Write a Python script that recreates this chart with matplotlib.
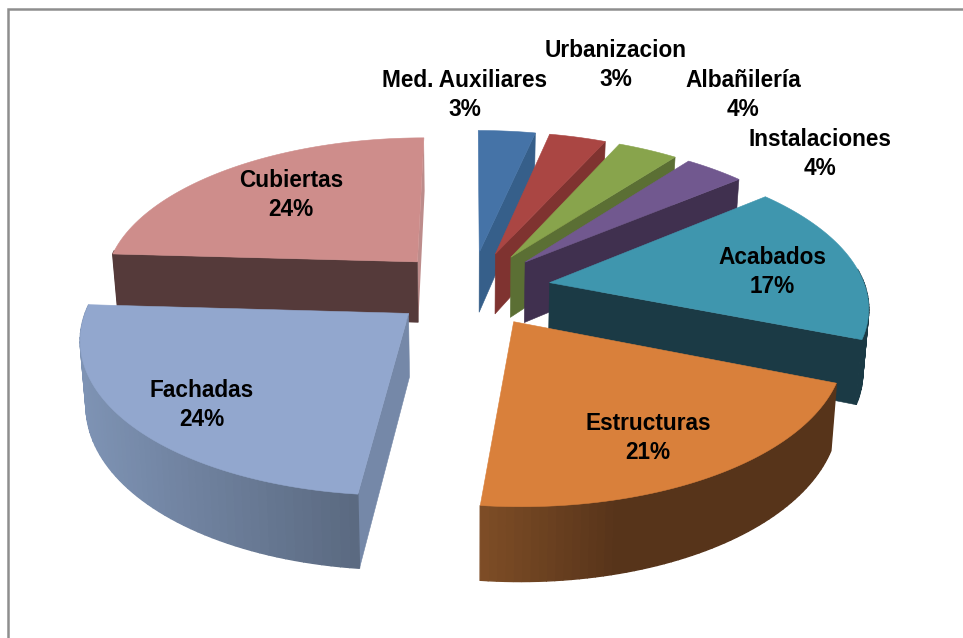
import numpy as np
import matplotlib
matplotlib.use("Agg")
import matplotlib.pyplot as plt
from matplotlib.patches import Polygon
from matplotlib.colors import to_rgb

# ---- data ----
categories = ["Med. Auxiliares", "Urbanizacion", "Albañilería", "Instalaciones",
              "Acabados", "Estructuras", "Fachadas", "Cubiertas"]
values = [3.4, 3.4, 3.6, 3.6, 17.0, 20.7, 24.2, 24.1]
pct_labels = ["3%", "3%", "4%", "4%", "17%", "21%", "24%", "24%"]

# ---- styles ----
top_colors = ["#4573a7", "#aa4643", "#88a44c", "#71588f", "#3f96ae", "#d9803b", "#92a7ce", "#ce8d8b"]
wall_colors = ["#365f8a", "#7f3330", "#5b6f34", "#40304f", "#1b3a45", "#5a3518", "#7588a8", "#553a3a"]
# which radial wall of each slice faces the viewer
wall_side = ["end", "end", "end", "end", "end", None, "start", "start"]
side_left = ["#365f8a", "#7f3330", "#5b6f34", "#40304f", "#1b3a45", "#7e4d26", "#7e93b4", "#553a3a"]
side_right = ["#365f8a", "#7f3330", "#5b6f34", "#40304f", "#1b3a45", "#57341a", "#5a6980", "#553a3a"]
cubiertas_sliver = "#bd8c8b"
draw_order = [7, 0, 1, 2, 3, 4, 6, 5]
label_xy = [(465, 95), (616, 65), (743, 95), (820, 154), (772, 272), (648, 438), (202, 405), (291, 195)]

# ---- projection of the tilted pie ----
CX, CY = 471.0, 288.5
R, EXPLODE, DEPTH = 316.0, 80.0, 62.0
TILT, PERSP = 0.47, 0.000447


def project(X, Y, low=False):
    s = 1.0 / (1.0 + PERSP * np.asarray(Y, dtype=float))
    x = CX + np.asarray(X) * s * (0.985 if low else 1.0)
    y = CY - TILT * np.asarray(Y) * s + (DEPTH * s if low else 0.0)
    return np.column_stack([np.atleast_1d(x), np.atleast_1d(y)])


fig = plt.figure(figsize=(9.63, 6.38), dpi=100, facecolor="white")
ax = fig.add_axes([0, 0, 1, 1])
ax.set_xlim(0, 963)
ax.set_ylim(638, 0)
ax.axis("off")

# chart frame: only the top and left edges fall inside the picture
ax.plot([8, 8, 963], [638, 9, 9], color="#8e8e8e", lw=1.8, solid_joinstyle="miter", zorder=1)

edges = np.concatenate([[0.0], np.cumsum(values)]) / np.sum(values) * 2 * np.pi
z = 2
for i in draw_order:
    t0, t1 = edges[i], edges[i + 1]
    mid = 0.5 * (t0 + t1)
    ax0, ay0 = EXPLODE * np.sin(mid), EXPLODE * np.cos(mid)
    t = np.linspace(t0, t1, 60)
    ox, oy = ax0 + R * np.sin(t), ay0 + R * np.cos(t)
    top_arc, low_arc = project(ox, oy), project(ox, oy, low=True)
    apex_top, apex_low = project(ax0, ay0), project(ax0, ay0, low=True)

    # the thin lit edge on the far side of Cubiertas
    if i == 7:
        sliver = np.vstack([apex_top, top_arc[-1], low_arc[-1], apex_low])
        ax.add_patch(Polygon(sliver, closed=True, fc=cubiertas_sliver, ec="none", zorder=z))
        z += 1

    # radial wall
    if wall_side[i]:
        j = -1 if wall_side[i] == "end" else 0
        wall = np.vstack([apex_top, top_arc[j], low_arc[j], apex_low])
        ax.add_patch(Polygon(wall, closed=True, fc=wall_colors[i], ec=wall_colors[i], lw=0.4, zorder=z))
    z += 1

    # outer rim, only where it turns toward the viewer, shaded across the slice
    lo, hi = top_arc[:, 0].min(), top_arc[:, 0].max()
    cl, cr = np.array(to_rgb(side_left[i])), np.array(to_rgb(side_right[i]))
    for k in range(len(t) - 1):
        if np.cos(t[k + 1]) > 0.09:
            continue
        xm = 0.5 * (top_arc[k, 0] + top_arc[k + 1, 0])
        f = np.clip((xm - lo) / max(hi - lo, 1), 0, 1)
        if i == 5:  # the orange rim settles to its dark tone partway along
            f = np.clip(f * 2.6, 0, 1)
        col = cl + (cr - cl) * f
        quad = np.vstack([top_arc[k], top_arc[k + 1], low_arc[k + 1], low_arc[k]])
        ax.add_patch(Polygon(quad, closed=True, fc=col, ec=col, lw=1.0, zorder=z))
    z += 1

    # top face
    ax.add_patch(Polygon(np.vstack([apex_top, top_arc]), closed=True,
                         fc=top_colors[i], ec=top_colors[i], lw=0.4, zorder=z))
    z += 1

for name, pct, (x, y) in zip(categories, pct_labels, label_xy):
    ax.text(x, y, f"{name}\n{pct}", ha="center", va="center", ma="center", color="black",
            family="Liberation Sans", weight="bold",
            fontsize=16.3, linespacing=1.3, zorder=100)

fig.savefig("out.png", dpi=100)
